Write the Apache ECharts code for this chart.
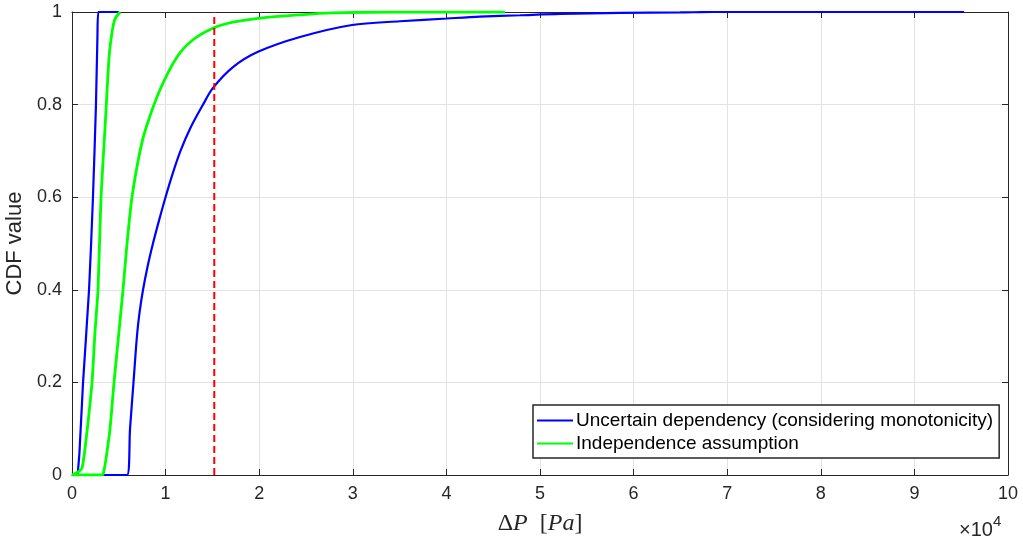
<!DOCTYPE html>
<html>
<head>
<meta charset="utf-8">
<script src="https://cdn.jsdelivr.net/npm/echarts@6/dist/echarts.min.js"></script>
<style>
html,body{margin:0;padding:0;background:#fff;}
#chart{width:1023px;height:547px;}
</style>
</head>
<body>
<div id="chart"></div>
<script>
// ---- data (Pa, CDF) ----
const xTicks = [0,1,2,3,4,5,6,7,8,9,10];
const yTicks = [0,0.2,0.4,0.6,0.8,1];

const blueLeftX = [600, 640, 800, 1180, 1820, 2240, 2560, 2720, 2830, 5000];
const blueLeftY = [0,   0,   0.05, 0.2, 0.4,  0.6,  0.8,  0.95, 1,    1];

const blueRightX = [0, 5880, 6200, 6570, 6940, 7210, 7590, 8070, 8650, 9300, 9990, 10740, 11590, 12660, 14000, 15060, 17200, 19870, 24360, 29920, 35040, 40070, 43590, 47860, 52140, 58550, 64960, 68480, 95300];
const blueRightY = [0, 0,    0.1,  0.2,  0.3,  0.35, 0.4,  0.45, 0.5,  0.55, 0.6,  0.65,  0.7,   0.75,  0.8,   0.836, 0.881, 0.914, 0.946, 0.972, 0.980, 0.986, 0.990, 0.993, 0.996, 0.998, 0.999, 1,     1];

const greenLeftX = [0, 530, 1070, 1500, 2140, 2460, 2780, 3100, 3530, 3950, 4270, 4590, 5130];
const greenLeftY = [0, 0.005, 0.015, 0.076, 0.2, 0.31, 0.4, 0.6, 0.75, 0.9, 0.955, 0.985, 1];

const greenMidX = [0, 3200, 3420, 3740, 4060, 4490, 4970, 5450, 5880, 6410, 7270, 7910, 9400, 11220, 12930, 15060, 17200, 20090, 24360, 27890, 35040, 46260];
const greenMidY = [0, 0,    0.01, 0.05, 0.1,  0.2,  0.3,  0.4,  0.5,  0.6,  0.7,  0.75, 0.832, 0.903, 0.94, 0.965, 0.978, 0.987, 0.994, 0.998, 1,     1];

const thresholdX = 15200;

const nameBlue = 'Uncertain dependency (considering monotonicity)';
const nameGreen = 'Independence assumption';

function pairs(xs, ys){ return xs.map((x,i)=>[x, ys[i]]); }

const BLUE = '#0000ff', GREEN = '#00ff00', RED = '#ff0000', AX = '#262626';
const FONT = '"Liberation Sans", Arial, Helvetica, sans-serif';
const SERIF = '"Liberation Serif", "DejaVu Serif", serif';

const chart = echarts.init(document.getElementById('chart'), null, {renderer:'canvas'});

const commonX = {type:'value', min:0, max:100000, interval:10000};
const commonY = {type:'value', min:0, max:1, interval:0.2};

chart.setOption({
  animation:false,
  backgroundColor:'#fff',
  grid:{left:72, right:15, top:12, bottom:72, containLabel:false, outerBoundsMode:'none'},
  xAxis:[
    Object.assign({}, commonX, {
      position:'bottom',
      axisLine:{show:true, onZero:false, lineStyle:{color:AX, width:1}},
      axisTick:{show:true, inside:true, length:6, lineStyle:{color:AX}},
      axisLabel:{show:true, margin:10, fontSize:18, color:AX, fontFamily:FONT,
        formatter:(v)=>String(xTicks[Math.round(v/10000)])},
      splitLine:{show:true, lineStyle:{color:'#e3e3e3', width:1}},
      name:'{d|Δ}{i|P}{d|  [}{i|Pa}{d|]}',
      nameLocation:'middle', nameGap:37,
      nameTextStyle:{rich:{
        d:{fontFamily:SERIF, fontSize:24, color:AX},
        i:{fontFamily:SERIF, fontStyle:'italic', fontSize:24, color:AX}
      }}
    }),
    Object.assign({}, commonX, {
      position:'top',
      axisLine:{show:true, onZero:false, lineStyle:{color:AX, width:1}},
      axisTick:{show:true, inside:true, length:6, lineStyle:{color:AX}},
      axisLabel:{show:false},
      splitLine:{show:false}
    })
  ],
  yAxis:[
    Object.assign({}, commonY, {
      position:'left',
      axisLine:{show:true, onZero:false, lineStyle:{color:AX, width:1}},
      axisTick:{show:true, inside:true, length:6, lineStyle:{color:AX}},
      axisLabel:{show:true, margin:10, fontSize:18, color:AX, fontFamily:FONT,
        formatter:(v)=>{ const t = yTicks.find(k=>Math.abs(k-v)<1e-9); return String(t); }},
      splitLine:{show:true, lineStyle:{color:'#e3e3e3', width:1}},
      name:'CDF value', nameLocation:'middle', nameGap:43,
      nameTextStyle:{fontSize:22, color:AX, fontFamily:FONT}
    }),
    Object.assign({}, commonY, {
      position:'right',
      axisLine:{show:true, onZero:false, lineStyle:{color:AX, width:1}},
      axisTick:{show:true, inside:true, length:6, lineStyle:{color:AX}},
      axisLabel:{show:false},
      splitLine:{show:false}
    })
  ],
  legend:{
    data:[nameBlue, nameGreen],
    orient:'vertical', left:533, top:405,
    backgroundColor:'#fff', borderColor:AX, borderWidth:1.5,
    padding:[6,6,5,4], itemGap:4,
    icon:'rect', itemWidth:36, itemHeight:2,
    textStyle:{fontSize:19, color:'#000', fontFamily:FONT, padding:[0,0,0,-2]},
    selectedMode:false
  },
  graphic:[{
    type:'text', left:959, top:514, silent:true,
    style:{
      text:'{a|×10}{s|4}',
      rich:{
        a:{fontSize:20, fontFamily:FONT, fill:AX, padding:[10,0,0,0]},
        s:{fontSize:15, fontFamily:FONT, fill:AX, padding:[0,0,8,0]}
      }
    }
  }],
  series:[
    {type:'line', name:nameBlue, data:pairs(blueRightX, blueRightY), showSymbol:false, symbol:'none',
      smooth:0.3,
      lineStyle:{color:BLUE, width:2.2}, itemStyle:{color:BLUE}, z:2},
    {type:'line', name:nameBlue, data:pairs(blueLeftX, blueLeftY), showSymbol:false, symbol:'none',
      smooth:0.2,
      lineStyle:{color:BLUE, width:2.2}, itemStyle:{color:BLUE}, z:2},
    {type:'line', name:nameGreen, data:pairs(greenMidX, greenMidY), showSymbol:false, symbol:'none',
      smooth:0.3,
      lineStyle:{color:GREEN, width:2.8}, itemStyle:{color:GREEN}, z:3},
    {type:'line', name:nameGreen, data:pairs(greenLeftX, greenLeftY), showSymbol:false, symbol:'none',
      smooth:0.2,
      lineStyle:{color:GREEN, width:2.8}, itemStyle:{color:GREEN}, z:3},
    {type:'line', name:'threshold', data:[[thresholdX,0],[thresholdX,1]], showSymbol:false, symbol:'none',
      lineStyle:{color:RED, width:2, type:[7,4]}, itemStyle:{color:RED}, z:4}
  ]
});
</script>
</body>
</html>
